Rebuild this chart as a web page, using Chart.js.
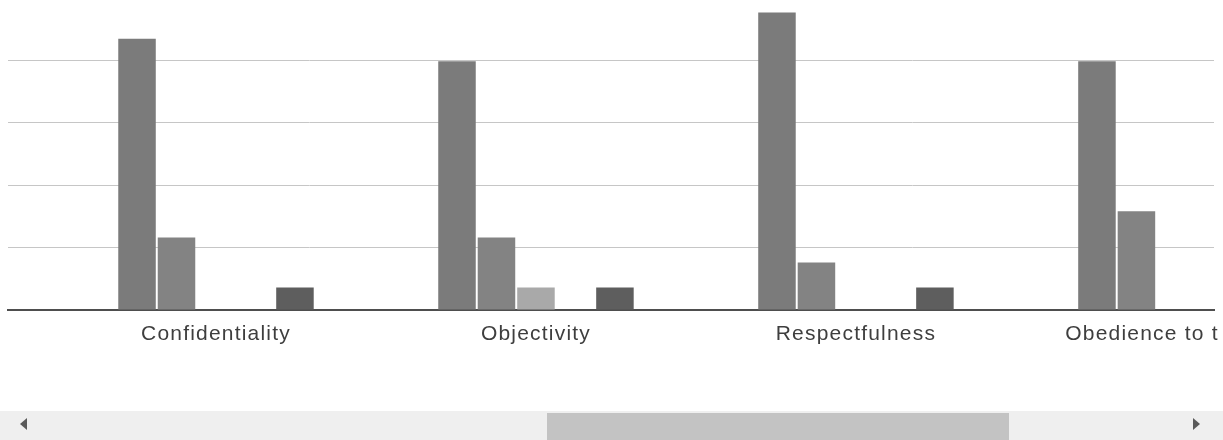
<!DOCTYPE html>
<html>
<head>
<meta charset="utf-8">
<script src="https://cdn.jsdelivr.net/npm/chart.js@4.4.1/dist/chart.umd.min.js"></script>
<style>
  html, body { margin: 0; padding: 0; background: #fff; }
  #wrap { position: relative; width: 1223px; height: 440px; overflow: hidden; background: #fff; }
  #chartBox { position: absolute; left: 0; top: 0; width: 1223px; height: 360px; }
  /* the label strip is cut off at the viewport's right edge */
  #labelMask { position: absolute; left: 1220px; top: 316px; width: 3px; height: 40px; background: #fff; }
  /* horizontal scroll bar under the plot */
  #track { position: absolute; left: 0; top: 411px; width: 1223px; height: 29px; background: #efefef; }
  #thumb { position: absolute; left: 547px; top: 413px; width: 462px; height: 27px; background: #c3c3c3; }
  .arrow { position: absolute; top: 418px; width: 0; height: 0; border-top: 6px solid transparent; border-bottom: 6px solid transparent; }
  #arrowL { left: 20px; border-right: 7px solid #5a5a5a; }
  #arrowR { left: 1193px; border-left: 7px solid #5a5a5a; }
</style>
</head>
<body>
<div id="wrap">
  <div id="chartBox"><canvas id="chart" width="1223" height="360"></canvas></div>
  <div id="labelMask"></div>
  <div id="track"></div>
  <div id="thumb"></div>
  <div class="arrow" id="arrowL"></div>
  <div class="arrow" id="arrowR"></div>
</div>
<script>
// Principles shown in the visible window of the scrolled chart
const categories = ['Confidentiality', 'Objectivity', 'Respectfulness', 'Obedience to the law'];

// Five answer groups per principle (null = no bar)
const series1 = [43.4, 39.8, 47.6, 39.8];
const series2 = [11.6, 11.6, 7.6, 15.8];
const series3 = [null, 3.6, null, null];
const series4 = [null, null, null, null];
const series5 = [3.6, 3.6, 3.6, null];

const yTicks = [0, 10, 20, 30, 40];

const seriesList = [series1, series2, series3, series4, series5];
const seriesColors = ['#7b7b7b', '#838383', '#a9a9a9', '#909090', '#5e5e5e'];

const datasets = seriesList.map((vals, s) => ({
  label: 'Series ' + (s + 1),
  data: vals.map((v, i) => ({ x: i, y: v })),
  backgroundColor: seriesColors[s],
  borderWidth: 0,
  categoryPercentage: 0.617,
  barPercentage: 0.95
}));

// slightly wider letter spacing for the axis labels
const spacingPlugin = {
  id: 'labelSpacing',
  beforeLayout(chart) { chart.ctx.letterSpacing = '1.2px'; },
  beforeDraw(chart) { chart.ctx.letterSpacing = '1.2px'; }
};

new Chart(document.getElementById('chart'), {
  type: 'bar',
  data: { datasets },
  plugins: [spacingPlugin],
  options: {
    responsive: false,
    animation: false,
    events: [],
    layout: { padding: { left: 8, right: 9, top: 0, bottom: 0 } },
    plugins: { legend: { display: false }, tooltip: { enabled: false } },
    scales: {
      x: {
        type: 'linear',
        offset: false,
        min: -0.65,
        max: 3.119,
        grid: { display: false, drawTicks: false },
        border: { display: true, color: '#4e4e4e', width: 2 },
        ticks: {
          stepSize: 1,
          includeBounds: false,
          autoSkip: false,
          maxRotation: 0,
          minRotation: 0,
          padding: 12,
          color: '#3e3e3e',
          font: { family: '"Liberation Sans", Arial, sans-serif', size: 21 },
          callback: (v) => (Number.isInteger(v) && categories[v] !== undefined) ? categories[v] : ''
        },
        afterFit(scale) { scale.height = 50; scale.paddingLeft = 0; scale.paddingRight = 0; }
      },
      y: {
        min: 0,
        max: 49.6,
        afterBuildTicks(scale) { scale.ticks = yTicks.map(v => ({ value: v })); },
        grid: { color: '#c6c6c6', lineWidth: 1, drawTicks: false },
        border: { display: false },
        ticks: { display: false },
        afterFit(scale) { scale.width = 0; }
      }
    }
  }
});
</script>
</body>
</html>
